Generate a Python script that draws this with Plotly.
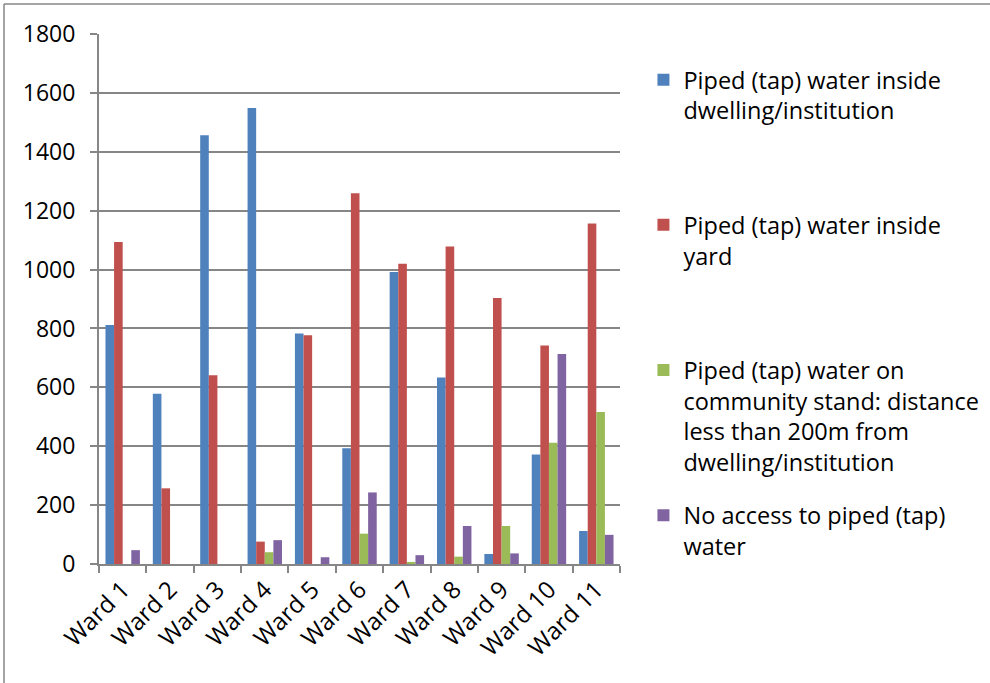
import plotly.graph_objects as go

wards = ["Ward 1", "Ward 2", "Ward 3", "Ward 4", "Ward 5", "Ward 6",
         "Ward 7", "Ward 8", "Ward 9", "Ward 10", "Ward 11"]

inside_dwelling = [812, 578, 1456, 1549, 783, 393, 992, 633, 34, 372, 112]
inside_yard = [1094, 257, 641, 76, 777, 1259, 1020, 1078, 903, 742, 1156]
community_stand = [0, 0, 0, 40, 0, 103, 7, 25, 129, 412, 516]
no_access = [47, 0, 0, 81, 23, 243, 30, 129, 36, 713, 99]

series_names = [
    "Piped (tap) water inside<br>dwelling/institution<br> <br> ",
    "Piped (tap) water inside<br>yard<br> <br> ",
    "Piped (tap) water on<br>community stand: distance<br>less than 200m from<br>dwelling/institution",
    "No access to piped (tap)<br>water",
]
series_values = [inside_dwelling, inside_yard, community_stand, no_access]
colors = ["#4F81BD", "#C0504D", "#9BBB59", "#8064A2"]

y_ticks = [0, 200, 400, 600, 800, 1000, 1200, 1400, 1600, 1800]

FONT = "Open Sans"

fig = go.Figure()
for i, (name, vals, col) in enumerate(zip(series_names, series_values, colors)):
    fig.add_trace(go.Bar(
        x=wards, y=vals, name=name, legendgroup=str(i),
        marker=dict(color=col, line=dict(width=0)),
    ))

fig.update_layout(
    width=990, height=683,
    margin=dict(l=99, r=370, t=34, b=119, autoexpand=False),
    paper_bgcolor="white", plot_bgcolor="white",
    barmode="group", bargap=0.273, bargroupgap=0,
    font=dict(family=FONT, size=23, color="black"),
    legend=dict(
        x=1.045, xanchor="left", y=0.955, yanchor="top",
        font=dict(family=FONT, size=23.5, color="black"),
        valign="top", traceorder="grouped", tracegroupgap=20,
        bgcolor="rgba(0,0,0,0)",
    ),
    showlegend=True,
)

fig.update_xaxes(
    type="category", tickangle=-45,
    showline=True, linecolor="#868686", linewidth=2,
    ticks="outside", tickson="boundaries", ticklen=7, tickcolor="#868686", tickwidth=2,
    showgrid=False,
    tickfont=dict(family=FONT, size=24, color="black"),
)
fig.update_yaxes(
    range=[0, 1800], tickvals=y_ticks,
    showline=True, linecolor="#868686", linewidth=2,
    ticks="outside", ticklen=7, tickcolor="#868686", tickwidth=2,
    showgrid=True, gridcolor="#868686", gridwidth=1.5,
    zeroline=False,
    ticklabelstandoff=10,
    tickfont=dict(family=FONT, size=23, color="black"),
)

# outer chart frame (top and left edges visible in the picture)
frame_style = dict(color="#868686", width=1.5)
fig.add_shape(type="line", xref="paper", yref="paper",
              x0=(4 - 99) / 521, x1=(990 - 99) / 521,
              y0=(564 - 4) / 530, y1=(564 - 4) / 530,
              line=frame_style, layer="below")
fig.add_shape(type="line", xref="paper", yref="paper",
              x0=(4 - 99) / 521, x1=(4 - 99) / 521,
              y0=(564 - 4) / 530, y1=(564 - 683) / 530,
              line=frame_style, layer="below")

fig.write_html("out.html", config={"displayModeBar": False},
               post_script="document.body.style.margin='0';")
